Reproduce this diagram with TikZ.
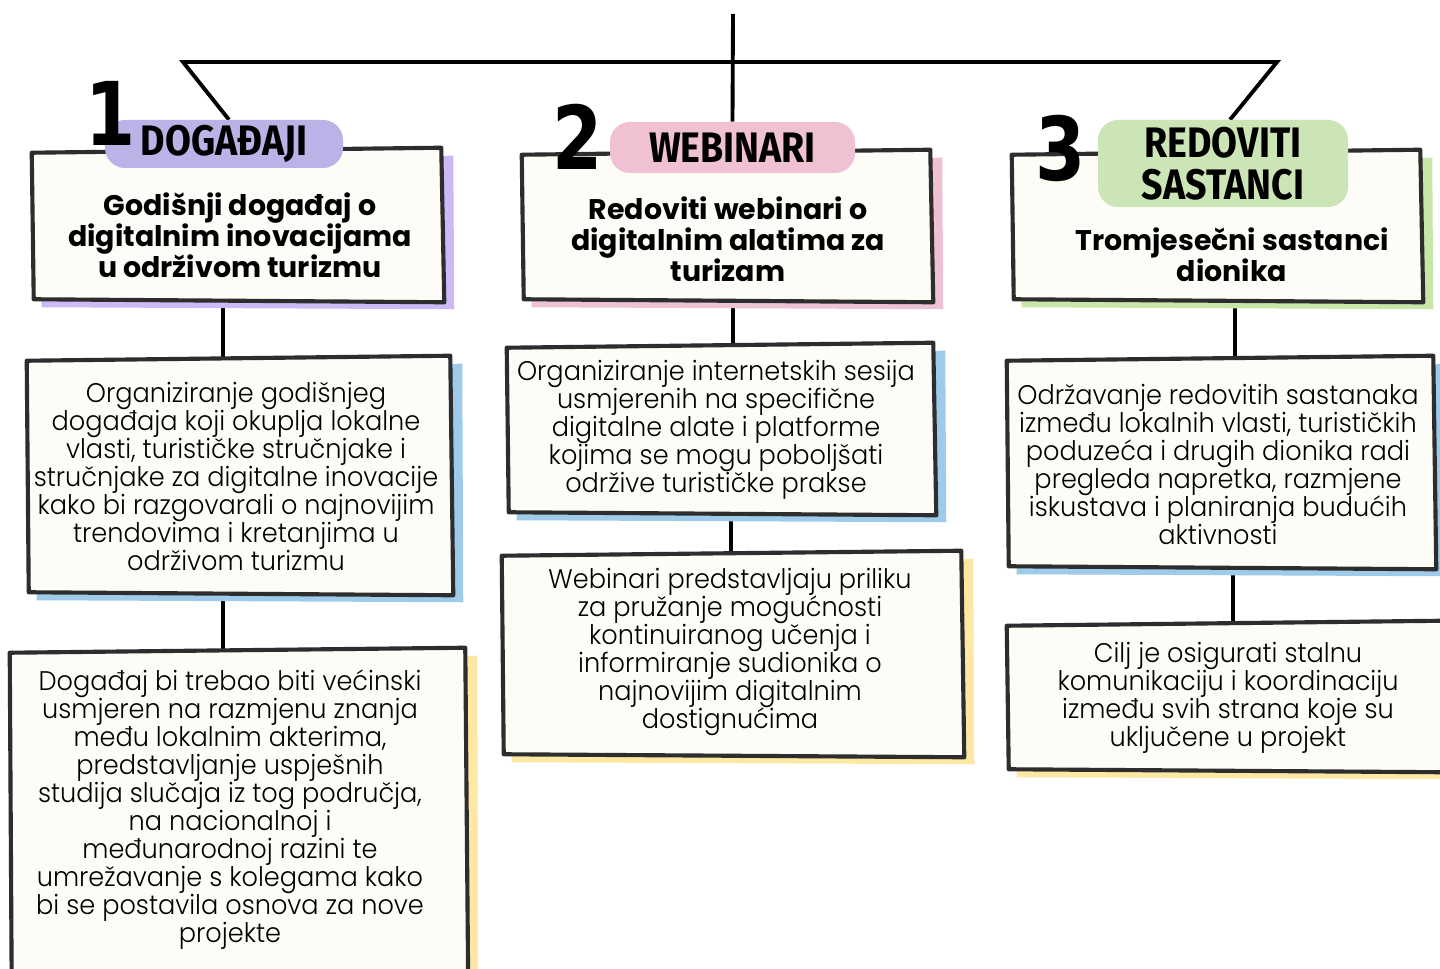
\documentclass[tikz,border=0pt]{standalone}
\usepackage{fontspec}
\usetikzlibrary{calc}
\newfontfamily\bodyfont{Poppins Light}[FakeStretch=0.95]
\newfontfamily\headfont{Poppins}
\newfontfamily\handfont{Fira Sans}[FakeStretch=0.88]
\newfontfamily\digitfont{DejaVu Sans}[FakeStretch=0.82]
\definecolor{border}{HTML}{2D2D2D}
\definecolor{boxfill}{HTML}{FDFCF6}
\definecolor{lavshadow}{HTML}{CDB9F6}
\definecolor{lavpill}{HTML}{B9B3E8}
\definecolor{pinkshadow}{HTML}{EEC2D4}
\definecolor{pinkpill}{HTML}{EFC1D3}
\definecolor{greenshadow}{HTML}{C9E6A9}
\definecolor{greenpill}{HTML}{CCE5B6}
\definecolor{blueshadow}{HTML}{9DCBE9}
\definecolor{yellowshadow}{HTML}{FDE8A3}
\pgfdeclarelayer{back}
\pgfdeclarelayer{bg}
\pgfsetlayers{back,bg,main}
\tikzset{
  boxnode/.style={draw=none, inner sep=0pt, minimum width=#1},
  boxline/.style={draw=border, fill=boxfill, line width=3.1pt, line join=round},
  conn/.style={draw=black, line width=2.9pt},
  bodytext/.style={inner sep=0pt, align=center, font={\bodyfont\fontsize{20.2}{21}\selectfont\lineskiplimit=-30pt}},
  headtext/.style={inner sep=0pt, align=center, font={\headfont\bfseries\fontsize{21.3}{23.2}\selectfont\lineskiplimit=-30pt}},
  pill/.style={fill=#1, rounded corners=15pt, inner sep=0pt, align=center, font={\handfont\bfseries\fontsize{32}{31.5}\selectfont\lineskiplimit=-30pt}},
  digit/.style={inner sep=0pt, font={\digitfont\bfseries\fontsize{66}{66}\selectfont}}
}
\newcommand\skbox[2]{%
  \path[fill=#2] ([shift={(10,8)}]#1.north west) -- ([shift={(10,6)}]#1.north east) -- ([shift={(11,9)}]#1.south east) -- ([shift={(10,7)}]#1.south west) -- cycle;
  \path[boxline] ([shift={(0,3)}]#1.north west) -- ([shift={(-2,-2)}]#1.north east) -- ([shift={(1,2)}]#1.south east) -- ([shift={(2,-1)}]#1.south west) -- cycle;
}
\begin{document}
\begin{tikzpicture}[x=0.75pt,y=-0.75pt]
\useasboundingbox (0,0) rectangle (1440,969);
\begin{pgfonlayer}{back}
\fill[white] (0,0) rectangle (1440,969);
\end{pgfonlayer}
% box frames (invisible nodes)
\node[boxnode=411*0.75pt, minimum height=150*0.75pt] (h1) at (237.5,225) {};
\node[boxnode=425*0.75pt, minimum height=235*0.75pt] (b1) at (239.5,475.5) {};
\node[boxnode=457*0.75pt, minimum height=340*0.75pt] (c1) at (238.5,820) {};
\node[boxnode=410*0.75pt, minimum height=148*0.75pt] (h2) at (727,226) {};
\node[boxnode=428*0.75pt, minimum height=168*0.75pt] (b2) at (721,429) {};
\node[boxnode=461*0.75pt, minimum height=202*0.75pt] (c2) at (732.5,654) {};
\node[boxnode=410*0.75pt, minimum height=148*0.75pt] (h3) at (1217,226) {};
\node[boxnode=428*0.75pt, minimum height=209*0.75pt] (b3) at (1221,462.5) {};
\node[boxnode=438*0.75pt, minimum height=147*0.75pt] (c3) at (1226,696.5) {};
% category pills
\node[pill=lavpill, minimum width=238*0.75pt, minimum height=48*0.75pt] (lab1) at (224,144) {DOGAĐAJI};
\node[pill=pinkpill, minimum width=245*0.75pt, minimum height=51*0.75pt] (lab2) at (732.5,147.5) {WEBINARI};
\node[pill=greenpill, minimum width=250*0.75pt, minimum height=87*0.75pt] (lab3) at (1223,163.5) {REDOVITI\\SASTANCI};
% digits
\node[digit] (d1) at (111,113) {1};
\node[digit] (d2) at (578,137) {2};
\node[digit] (d3) at (1061,148) {3};
% heading texts
\node[headtext] (t1) at (240,235) {Godišnji događaj o\\digitalnim inovacijama\\u održivom turizmu};
\node[headtext] (t2) at (728,239) {Redoviti webinari o\\digitalnim alatima za\\turizam};
\node[headtext] (t3) at (1232,255) {Tromjesečni sastanci\\dionika};
% body texts
\node[bodytext] (tb1) at (236,476) {Organiziranje godišnjeg\\događaja koji okuplja lokalne\\vlasti, turističke stručnjake i\\stručnjake za digitalne inovacije\\kako bi razgovarali o najnovijim\\trendovima i kretanjima u\\održivom turizmu};
\node[bodytext] (tc1) at (230,810) {Događaj bi trebao biti većinski\\usmjeren na razmjenu znanja\\među lokalnim akterima,\\predstavljanje uspješnih\\studija slučaja iz tog područja,\\na nacionalnoj i\\međunarodnoj razini te\\umrežavanje s kolegama kako\\bi se postavila osnova za nove\\projekte};
\node[bodytext] (tb2) at (716,430) {Organiziranje internetskih sesija\\usmjerenih na specifične\\digitalne alate i platforme\\kojima se mogu poboljšati\\održive turističke prakse};
\node[bodytext] (tc2) at (730,652) {Webinari predstavljaju priliku\\za pružanje mogućnosti\\kontinuiranog učenja i\\informiranje sudionika o\\najnovijim digitalnim\\dostignućima};
\node[bodytext] (tb3) at (1218,464) {Održavanje redovitih sastanaka\\između lokalnih vlasti, turističkih\\poduzeća i drugih dionika radi\\pregleda napretka, razmjene\\iskustava i planiranja budućih\\aktivnosti};
\node[bodytext] (tc3) at (1228,698) {Cilj je osigurati stalnu\\komunikaciju i koordinaciju\\između svih strana koje su\\uključene u projekt};
\coordinate (top) at (733,14);
\coordinate (jl) at (183,62);
\coordinate (jr) at (1277,62);
\begin{pgfonlayer}{bg}
  % connectors
  \draw[conn] (top) -- (lab2.north);
  \draw[conn] ($(lab1.north)+(5,0)$) -- (jl) -- (jr) -- ($(lab3.north)+(7,0)$);
  \draw[conn] ($(h1.south)+(-14.5,0)$) -- ($(b1.north)+(-16.5,0)$);
  \draw[conn] ($(b1.south)+(-16.5,0)$) -- ($(c1.north)+(-15.5,0)$);
  \draw[conn] ($(h2.south)+(6,0)$) -- ($(b2.north)+(12,0)$);
  \draw[conn] ($(b2.south)+(10,0)$) -- ($(c2.north)+(-1.5,0)$);
  \draw[conn] ($(h3.south)+(18,0)$) -- ($(b3.north)+(14,0)$);
  \draw[conn] ($(b3.south)+(12,0)$) -- ($(c3.north)+(7,0)$);
  % boxes
  \skbox{h1}{lavshadow}
  \skbox{b1}{blueshadow}
  \skbox{c1}{yellowshadow}
  \skbox{h2}{pinkshadow}
  \skbox{b2}{blueshadow}
  \skbox{c2}{yellowshadow}
  \skbox{h3}{greenshadow}
  \skbox{b3}{blueshadow}
  \skbox{c3}{yellowshadow}
\end{pgfonlayer}
\end{tikzpicture}
\end{document}
